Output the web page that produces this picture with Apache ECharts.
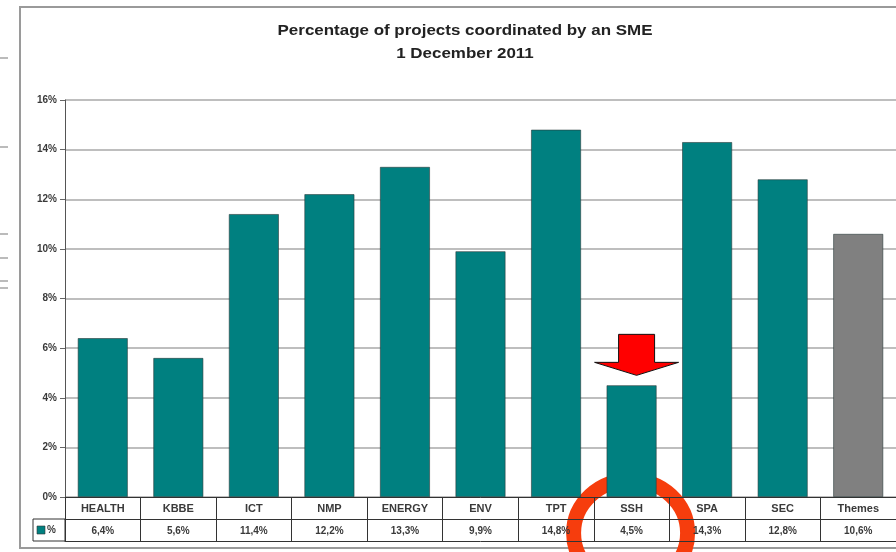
<!DOCTYPE html>
<html>
<head>
<meta charset="utf-8">
<script src="https://cdn.jsdelivr.net/npm/echarts@6/dist/echarts.min.js"></script>
<style>
  html, body { margin: 0; padding: 0; background: #fff; }
  #main { width: 896px; height: 552px; }
</style>
</head>
<body>
<div id="main"></div>
<script>
const categories = ['HEALTH', 'KBBE', 'ICT', 'NMP', 'ENERGY', 'ENV', 'TPT', 'SSH', 'SPA', 'SEC', 'Themes']
const values = [6.4, 5.6, 11.4, 12.2, 13.3, 9.9, 14.8, 4.5, 14.3, 12.8, 10.6]
const yTicks = [0, 2, 4, 6, 8, 10, 12, 14, 16]
const titleLines = ['Percentage of projects coordinated by an SME', '1 December 2011']
const highlighted = 'SSH'

const FONT = '"Liberation Sans", Arial, sans-serif'
const TEAL = '#008080'
const GREY = '#808080'

// 0,0 -> "0,0%"
const fmt = v => v.toFixed(1).replace('.', ',') + '%'

const chart = echarts.init(document.getElementById('main'))

const option = {
  animation: false,
  backgroundColor: '#fff',
  grid: { left: 65, top: 100, width: 834, height: 397, containLabel: false },
  xAxis: [
    {
      type: 'category',
      data: categories,
      position: 'bottom',
      axisLine: { show: true, lineStyle: { color: '#333', width: 1 } },
      axisTick: { show: true, length: 44, interval: 0, lineStyle: { color: '#333', width: 1 } },
      axisLabel: {
        interval: 0,
        margin: 1,
        formatter: (v, i) => '{c|' + v + '}\n{v|' + fmt(values[i]) + '}',
        rich: {
          c: { fontFamily: FONT, fontSize: 11, fontWeight: 'bold', color: '#3a3a3a', lineHeight: 22 },
          v: { fontFamily: FONT, fontSize: 10, fontWeight: 'bold', color: '#3a3a3a', lineHeight: 22 }
        }
      }
    },
    {
      type: 'category', data: categories, position: 'bottom', offset: 22,
      axisLine: { show: true, lineStyle: { color: '#333', width: 1 } },
      axisTick: { show: false }, axisLabel: { show: false }
    },
    {
      type: 'category', data: categories, position: 'bottom', offset: 44,
      axisLine: { show: true, lineStyle: { color: '#333', width: 1 } },
      axisTick: { show: false }, axisLabel: { show: false }
    }
  ],
  yAxis: {
    type: 'value',
    min: yTicks[0],
    max: yTicks[yTicks.length - 1],
    interval: 2,
    axisLine: { show: true, lineStyle: { color: '#555', width: 1 } },
    axisTick: { show: true, length: 5, lineStyle: { color: '#666' } },
    axisLabel: {
      margin: 8,
      fontFamily: FONT, fontSize: 10, fontWeight: 'bold', color: '#3a3a3a',
      formatter: v => v + '%'
    },
    splitLine: { show: true, lineStyle: { color: '#a8a8a8', width: 1.5 } }
  },
  series: [{
    type: 'bar',
    data: values,
    barWidth: '66%',
    itemStyle: {
      color: p => (p.dataIndex === categories.length - 1 ? GREY : TEAL),
      borderColor: '#2a3a3a',
      borderWidth: 0.6
    }
  }]
}

chart.setOption(option)

// annotations placed relative to the chart's own scale
const ssh = chart.convertToPixel({ xAxisIndex: 0, yAxisIndex: 0 }, [highlighted, values[categories.indexOf(highlighted)]])
const base = chart.convertToPixel({ xAxisIndex: 0, yAxisIndex: 0 }, [highlighted, 0])
const ax = ssh[0] + 5
const ay = ssh[1]

chart.setOption({
  graphic: [
    // outer frame
    { type: 'rect', shape: { x: 20, y: 7, width: 900, height: 541 }, style: { fill: null, stroke: '#9a9a9a', lineWidth: 2 }, silent: true },
    // page marks on the far left
    { type: 'line', shape: { x1: 0, y1: 58, x2: 8, y2: 58 }, style: { stroke: '#bbb', lineWidth: 2 } },
    { type: 'line', shape: { x1: 0, y1: 147, x2: 8, y2: 147 }, style: { stroke: '#bbb', lineWidth: 2 } },
    { type: 'line', shape: { x1: 0, y1: 234, x2: 8, y2: 234 }, style: { stroke: '#bbb', lineWidth: 2 } },
    { type: 'line', shape: { x1: 0, y1: 258, x2: 8, y2: 258 }, style: { stroke: '#bbb', lineWidth: 2 } },
    { type: 'line', shape: { x1: 0, y1: 281, x2: 8, y2: 281 }, style: { stroke: '#bbb', lineWidth: 2 } },
    { type: 'line', shape: { x1: 0, y1: 288, x2: 8, y2: 288 }, style: { stroke: '#bbb', lineWidth: 2 } },
    // title (source is slightly stretched horizontally)
    { type: 'text', x: 465, y: 31, scaleX: 1.13, style: { text: titleLines[0], fontFamily: FONT, fontSize: 15, fontWeight: 'bold', fill: '#222', align: 'center', verticalAlign: 'middle' } },
    { type: 'text', x: 465, y: 54, scaleX: 1.13, style: { text: titleLines[1], fontFamily: FONT, fontSize: 15, fontWeight: 'bold', fill: '#222', align: 'center', verticalAlign: 'middle' } },
    // legend key cell in table
    { type: 'rect', shape: { x: 33, y: base[1] + 22, width: 32, height: 22 }, style: { fill: null, stroke: '#333', lineWidth: 1 } },
    { type: 'rect', shape: { x: 37, y: base[1] + 29, width: 8, height: 8 }, style: { fill: TEAL, stroke: '#333', lineWidth: 0.6 } },
    { type: 'text', x: 47, y: base[1] + 33, style: { text: '%', fontFamily: FONT, fontSize: 10, fontWeight: 'bold', fill: '#3a3a3a', verticalAlign: 'middle' } },
    // red arrow pointing at SSH
    {
      type: 'polygon',
      shape: { points: [
        [ax - 18, ay - 51], [ax + 18, ay - 51], [ax + 18, ay - 23], [ax + 42, ay - 23],
        [ax, ay - 10], [ax - 42, ay - 23], [ax - 18, ay - 23]
      ] },
      style: { fill: '#ff0000', stroke: '#111', lineWidth: 1 }
    },
    // red circle round the SSH cell
    { type: 'ellipse', shape: { cx: base[0] - 1, cy: 533, rx: 57, ry: 53 }, style: { fill: null, stroke: '#f63d0d', lineWidth: 15 } }
  ]
})
</script>
</body>
</html>
